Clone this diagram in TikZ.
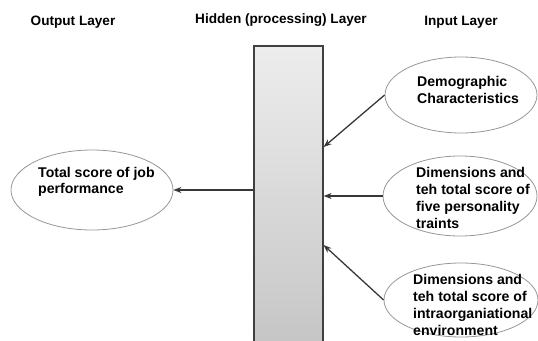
\documentclass[tikz,border=0pt]{standalone}
\usepackage{fontspec}
\setmainfont{Liberation Sans}
\usepackage{xcolor}
\usepackage{tikz}
\usetikzlibrary{arrows.meta,positioning,shapes.geometric}
\definecolor{linkgray}{RGB}{55,55,55}
\definecolor{ovalgray}{RGB}{150,150,150}

\begin{document}
\begin{tikzpicture}[x=1pt,y=-1pt,>={Stealth[length=8pt,width=6pt]},
  font=\fontsize{13.6}{16.7}\selectfont\bfseries,
  oval/.style={ellipse,draw=ovalgray,line width=0.8pt,inner sep=0pt},
  ovaltext/.style={anchor=west,align=left,inner sep=0pt,
    font=\fontsize{14.1}{16.7}\selectfont\bfseries},
  link/.style={->,draw=linkgray,line width=1.3pt}]
  \useasboundingbox (0,0) rectangle (538,340);
  % layer titles
  \node (outtitle) at (73,22) {Output Layer};
  \node (hidtitle) at (281,20.5) {Hidden (processing) Layer};
  \node (intitle) at (461,22) {Input Layer};
  % hidden layer bar
  \node[draw=black!75,line width=1.2pt,top color=gray!14,bottom color=gray!45,
    minimum width=69pt,minimum height=298pt,inner sep=0pt] (hidden) at (288.5,195) {};
  % output oval
  \node[oval,minimum width=162pt,minimum height=80pt] (outperf) at (92,190) {};
  \node[ovaltext] (outperftext) at (38,182) {Total score of job\\performance};
  % input ovals
  \node[oval,minimum width=152pt,minimum height=76pt] (indemo) at (461,95) {};
  \node[ovaltext] (indemotext) at (417,90) {Demographic\\Characteristics};
  \node[oval,minimum width=154pt,minimum height=80pt] (inpers) at (460,196) {};
  \node[ovaltext] (inperstext) at (416,198) {Dimensions and\\teh total score of\\five personality\\traints};
  \node[oval,minimum width=154pt,minimum height=74pt] (inenv) at (461,300) {};
  \node[ovaltext] (inenvtext) at (413,305) {Dimensions and\\teh total score of\\intraorganiational\\environment};
  % connectors
  \draw[link] (hidden.west |- outperf.east) -- (outperf.east);
  \draw[link] (indemo.west) -- (hidden.east |- 0,147);
  \draw[link] (inpers.west) -- (hidden.east |- inpers.west);
  \draw[link] (inenv.west) -- (hidden.east |- 0,245);
\end{tikzpicture}
\end{document}
